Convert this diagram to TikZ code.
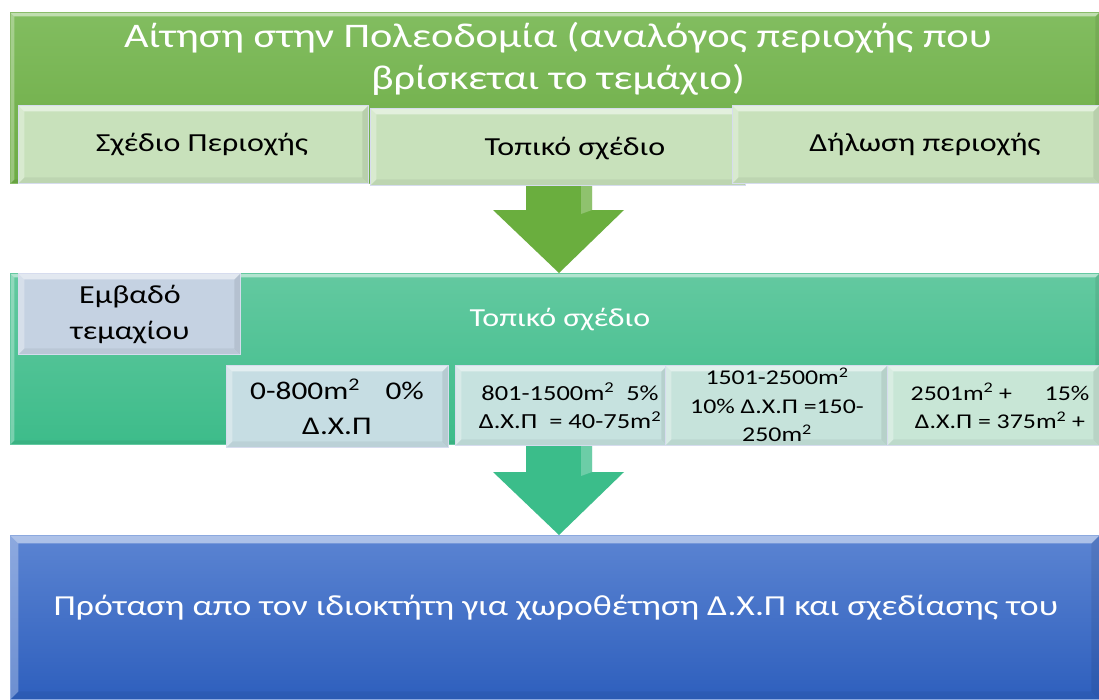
\documentclass[tikz,border=0pt]{standalone}
\usepackage{fontspec}
\setmainfont{Carlito}[FakeStretch=1.23]
\definecolor{gTop}{HTML}{82BD60}
\definecolor{gBot}{HTML}{6CAB44}
\definecolor{gLight}{HTML}{C8E1BB}
\definecolor{tTop}{HTML}{63C9A0}
\definecolor{tBot}{HTML}{3DBC8A}
\definecolor{bgrey}{HTML}{C5D2E2}
\definecolor{cyanA}{HTML}{C6DDE3}
\definecolor{cyanB}{HTML}{C6E2DF}
\definecolor{cyanC}{HTML}{C6E3DB}
\definecolor{cyanD}{HTML}{C8E6D6}
\definecolor{bTop}{HTML}{5B84D2}
\definecolor{bBot}{HTML}{2E5FBD}
\definecolor{arrG}{HTML}{6AAE3E}
\definecolor{arrT}{HTML}{3BBD8A}
\definecolor{edgeL}{HTML}{D6DCEE}
\tikzset{
  bevel/.style={path picture={
    \fill[white,opacity=0.5] (path picture bounding box.north west) -- (path picture bounding box.north east)
      -- ([xshift=-#1,yshift=-#1]path picture bounding box.north east) -- ([xshift=#1,yshift=-#1]path picture bounding box.north west) -- cycle;
    \fill[white,opacity=0.30] (path picture bounding box.north west) -- (path picture bounding box.south west)
      -- ([xshift=#1,yshift=#1]path picture bounding box.south west) -- ([xshift=#1,yshift=-#1]path picture bounding box.north west) -- cycle;
    \fill[black,opacity=0.05] (path picture bounding box.south west) -- (path picture bounding box.south east)
      -- ([xshift=-#1,yshift=#1]path picture bounding box.south east) -- ([xshift=#1,yshift=#1]path picture bounding box.south west) -- cycle;
    \fill[black,opacity=0.08] (path picture bounding box.north east) -- (path picture bounding box.south east)
      -- ([xshift=-#1,yshift=#1]path picture bounding box.south east) -- ([xshift=-#1,yshift=-#1]path picture bounding box.north east) -- cycle;
  }},
  bevel/.default=6pt,
  panel/.style={rectangle, inner sep=0pt, anchor=north west, draw=edgeL, line width=0.8pt},
  lbl/.style={align=center, inner sep=0pt, font=\fontsize{26}{32}\selectfont},
  sml/.style={align=center, inner sep=0pt, font=\fontsize{21}{28.5}\selectfont},
  wlbl/.style={align=center, inner sep=0pt, text=white},
}
\begin{document}
\begin{tikzpicture}[x=1pt,y=-1pt]
\useasboundingbox[fill=white] (0,0) rectangle (1099,699);
% ---- top panel
\node[panel, draw=gBot!80!white, top color=gTop, bottom color=gBot, minimum width=1089pt, minimum height=171pt, bevel=4pt] (top) at (10,12) {};
\node[wlbl, font=\fontsize{34.5}{41.5}\selectfont] (title) at (558,59) {Αίτηση στην Πολεοδομία (αναλόγος περιοχής που\\βρίσκεται το τεμάχιο)};
% arrow 1
\fill[arrG] (526,176) -- (592,176) -- (592,210) -- (624,210) -- (559,273) -- (493,210) -- (526,210) -- cycle;
\fill[white,opacity=0.25] (581,178) -- (592,178) -- (592,210) -- (581,214) -- cycle;
% sub boxes
\node[panel, fill=gLight, minimum width=350pt, minimum height=78pt, bevel] (s1) at (18,105) {};
\node[panel, fill=gLight, minimum width=375pt, minimum height=77pt, bevel] (s2) at (370,108) {};
\node[panel, fill=gLight, minimum width=367pt, minimum height=78pt, bevel] (s3) at (732,105) {};
\node[lbl] (s1t) at (202,145) {Σχέδιο Περιοχής};
\node[lbl] (s2t) at (575,149) {Τοπικό σχέδιο};
\node[lbl] (s3t) at (925,145) {Δήλωση περιοχής};
% ---- middle panel
\fill[arrT] (526,440) -- (592,440) -- (592,472) -- (624,472) -- (559,535) -- (493,472) -- (526,472) -- cycle;
\fill[white,opacity=0.25] (581,444) -- (592,444) -- (592,472) -- (581,476) -- cycle;
\node[panel, draw=tBot!80!white, top color=tTop, bottom color=tBot, minimum width=1089pt, minimum height=171pt, bevel=4pt] (mid) at (10,273) {};
\node[wlbl, font=\fontsize{26}{32}\selectfont] (midt) at (560,320) {Τοπικό σχέδιο};
\node[panel, fill=bgrey, minimum width=222pt, minimum height=81pt, bevel] (emb) at (18,273) {};
\node[lbl, font=\fontsize{26}{36}\selectfont] (embt) at (130,315) {Εμβαδό\\τεμαχίου};
\node[panel, fill=cyanA, minimum width=222pt, minimum height=82pt, bevel] (b1) at (226,365) {};
\node[panel, fill=cyanB, minimum width=212pt, minimum height=80pt, bevel] (b2) at (455,365) {};
\node[panel, fill=cyanC, minimum width=222pt, minimum height=80pt, bevel] (b3) at (665,365) {};
\node[panel, fill=cyanD, minimum width=212pt, minimum height=80pt, bevel] (b4) at (887,365) {};
\node[lbl, font=\fontsize{25.5}{35}\selectfont] (b1t) at (337,407) {0-800m\textsuperscript{2}\quad 0\%\\Δ.Χ.Π};
\node[sml, font=\fontsize{21.5}{28.5}\selectfont] (b2t) at (570,406) {801-1500m\textsuperscript{2}\ \ 5\%\\Δ.Χ.Π\ \ = 40-75m\textsuperscript{2}};
\node[sml] (b3t) at (777,405) {1501-2500m\textsuperscript{2}\\10\% Δ.Χ.Π =150-\\250m\textsuperscript{2}};
\node[sml] (b4t) at (1000,406) {2501m\textsuperscript{2} +\quad\ \ 15\%\\Δ.Χ.Π = 375m\textsuperscript{2} +};
% ---- bottom panel
\node[panel, draw=bTop!70!white, top color=bTop, bottom color=bBot, minimum width=1089pt, minimum height=164pt, bevel=8pt] (bot) at (10,535) {};
\node[wlbl, font=\fontsize{29}{36}\selectfont] (bott) at (556,608) {Πρόταση απο τον ιδιοκτήτη για χωροθέτηση Δ.Χ.Π και σχεδίασης του};
\end{tikzpicture}
\end{document}
